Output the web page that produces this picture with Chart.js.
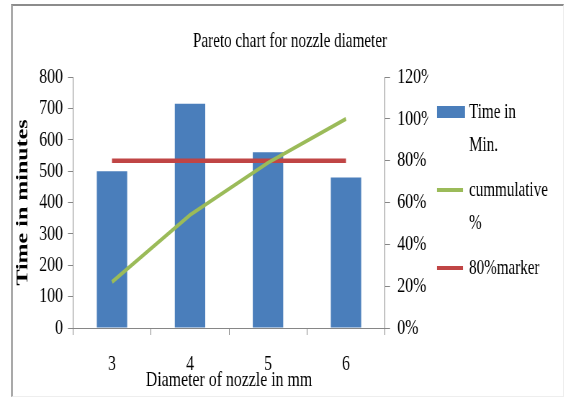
<!DOCTYPE html>
<html>
<head>
<meta charset="utf-8">
<script src="https://cdn.jsdelivr.net/npm/chart.js@4"></script>
<style>
  html, body { margin: 0; padding: 0; background: #fff; overflow: hidden; }
  #wrap { position: absolute; left: 0; top: 0; width: 564px; height: 398px; overflow: hidden; background: #fff; }
  /* the stage is drawn wide and squeezed horizontally, giving the narrow serif lettering */
  #stage { position: absolute; left: 0; top: 0; width: 783px; height: 398px; transform: scaleX(0.72); transform-origin: 0 0; }
  #frame { position: absolute; left: 11px; top: 4px; width: 550px; height: 390px;
           border-top: 2px solid #8c8c8c; border-left: 2px solid #a9a9a9;
           border-right: 1px solid #eeeeee; border-bottom: 1px solid #eeeeee; pointer-events: none; }
</style>
</head>
<body>
<div id="wrap">
  <div id="stage"><canvas id="c" width="783" height="398"></canvas></div>
  <div id="frame"></div>
</div>
<script>
// ---- data ----
const chartTitle = 'Pareto chart for nozzle diameter';
const categories = ['3', '4', '5', '6'];
const timeMinutes = [500, 715, 560, 480];
const cumulativePct = [0.22, 0.54, 0.79, 1.00];
const markerPct = [0.80, 0.80, 0.80, 0.80];
const leftTicks = [0, 100, 200, 300, 400, 500, 600, 700, 800];
const rightTicks = [0, 0.2, 0.4, 0.6, 0.8, 1.0, 1.2];
const seriesNames = ['Time in\nMin.', 'cummulative\n%', '80%marker'];

// ---- styling ----
const SX = 0.72;                 // horizontal squeeze of the stage
const L = a => a / SX;           // on-screen x -> stage x
const FONT = '"Liberation Serif", "Times New Roman", serif';
const AXIS = '#868686';
const BLUE = '#4A7EBB', GREEN = '#9BBB59', RED = '#C04545';

// title and the legend at the right
const paretoDecor = {
  id: 'paretoDecor',
  afterDraw(chart) {
    const ctx = chart.ctx;
    ctx.save();
    ctx.fillStyle = '#000';
    ctx.font = '21px ' + FONT;
    ctx.textAlign = 'center';
    ctx.textBaseline = 'middle';
    ctx.fillText(chartTitle, L(290), 41);

    ctx.textAlign = 'left';
    let y = 112;
    chart.data.datasets.forEach(ds => {
      const lines = ds.label.split('\n');
      if (ds.type === 'bar') {
        ctx.fillStyle = ds.backgroundColor;
        ctx.fillRect(L(437), y - 6, L(465) - L(437), 12);
      } else {
        ctx.strokeStyle = ds.borderColor;
        ctx.lineWidth = 4;
        ctx.beginPath();
        ctx.moveTo(L(437), y);
        ctx.lineTo(L(463), y);
        ctx.stroke();
      }
      ctx.fillStyle = '#000';
      ctx.font = '21px ' + FONT;
      lines.forEach((t, i) => ctx.fillText(t, L(469), y + i * 33));
      y += (lines.length - 1) * 33 + 45;
    });
    ctx.restore();
  }
};

new Chart(document.getElementById('c'), {
  data: {
    labels: categories,
    datasets: [
      { type: 'bar', label: seriesNames[0], data: timeMinutes, yAxisID: 'y',
        backgroundColor: BLUE, borderWidth: 0, categoryPercentage: 1, barPercentage: 0.39, order: 2 },
      { type: 'line', label: seriesNames[1], data: cumulativePct, yAxisID: 'y1',
        borderColor: GREEN, borderWidth: 4, pointRadius: 0, tension: 0, fill: false, order: 0 },
      { type: 'line', label: seriesNames[2], data: markerPct, yAxisID: 'y1',
        borderColor: RED, borderWidth: 4.5, pointRadius: 0, tension: 0, fill: false, order: 1 }
    ]
  },
  options: {
    responsive: false,
    animation: false,
    devicePixelRatio: 1,
    layout: { padding: { left: 0, top: 77, right: 783 - L(385) - 60, bottom: 0 } },
    plugins: { legend: { display: false }, title: { display: false }, tooltip: { enabled: false } },
    scales: {
      x: {
        type: 'category',
        offset: true,
        grid: { display: true, drawOnChartArea: false, offset: true, tickLength: 7, color: AXIS },
        border: { display: true, color: AXIS },
        ticks: { font: { family: FONT, size: 22 }, color: '#000', padding: 16 },
        title: { display: true, text: 'Diameter of nozzle in mm', color: '#000',
                 font: { family: FONT, size: 22 }, padding: { top: 0, bottom: 5 } },
        afterFit: s => { s.height = 70; }
      },
      y: {
        position: 'left',
        min: 0, max: 800,
        afterBuildTicks: s => { s.ticks = leftTicks.map(v => ({ value: v })); },
        grid: { display: true, drawOnChartArea: false, tickLength: 7, color: AXIS },
        border: { display: true, color: AXIS },
        ticks: { font: { family: FONT, size: 22 }, color: '#000', padding: 7 },
        title: { display: true, text: 'Time in minutes', color: '#000',
                 font: { family: FONT, size: 24, weight: 'bold' }, padding: { top: 17, bottom: 0 } },
        afterFit: s => { s.width = L(73); }
      },
      y1: {
        position: 'right',
        min: 0, max: 1.2,
        afterBuildTicks: s => { s.ticks = rightTicks.map(v => ({ value: v })); },
        grid: { display: true, drawOnChartArea: false, tickLength: 7, color: AXIS },
        border: { display: true, color: AXIS },
        ticks: { font: { family: FONT, size: 22 }, color: '#000', padding: 10,
                 callback: v => Math.round(v * 100) + '%' },
        afterFit: s => { s.width = 60; }
      }
    }
  },
  plugins: [paretoDecor]
});
</script>
</body>
</html>
